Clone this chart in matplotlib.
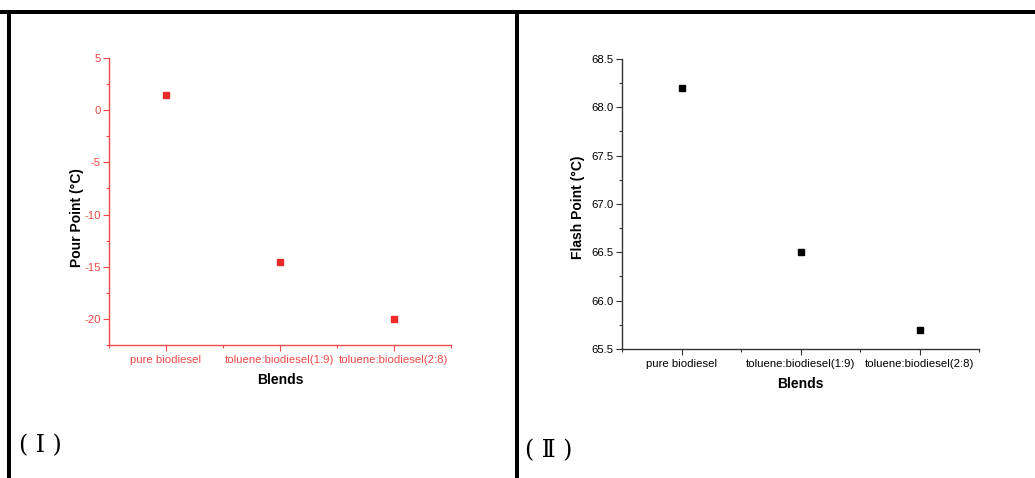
import matplotlib
matplotlib.use('Agg')
import matplotlib.pyplot as plt
from matplotlib.ticker import MultipleLocator, FixedLocator, FormatStrFormatter

blends = ['pure biodiesel', 'toluene:biodiesel(1:9)', 'toluene:biodiesel(2:8)']
pour_point = [1.5, -14.5, -20.0]
flash_point = [68.2, 66.5, 65.7]

plt.rcParams['font.family'] = ['Liberation Sans', 'DejaVu Sans']
plt.rcParams['axes.unicode_minus'] = False

fig = plt.figure(figsize=(10.35, 4.78), dpi=100)

red = '#f04848'
mark_red = '#ee2a2a'


def setup(ax, color, ylim, ymajor, yminor):
    x = range(len(blends))
    ax.set_xlim(-0.5, len(blends) - 0.5)
    ax.set_ylim(*ylim)
    for s in ['top', 'right']:
        ax.spines[s].set_visible(False)
    for s in ['left', 'bottom']:
        ax.spines[s].set_color(color)
        ax.spines[s].set_linewidth(1.0)
    ax.set_xticks(list(x))
    ax.set_xticklabels(blends)
    ax.xaxis.set_minor_locator(FixedLocator([-0.5, 0.5, 1.5, 2.5]))
    ax.yaxis.set_major_locator(MultipleLocator(ymajor))
    ax.yaxis.set_minor_locator(MultipleLocator(yminor))
    ax.tick_params(axis='both', which='major', direction='out', length=4,
                   width=0.8, color=color, labelcolor=color, labelsize=8.2)
    ax.tick_params(axis='x', which='major', pad=3.5)
    ax.tick_params(axis='y', which='major', pad=2)
    ax.tick_params(axis='both', which='minor', direction='out', length=2.5,
                   width=0.8, color=color)
    ax.set_xlabel('Blends', fontsize=10, fontweight='bold', labelpad=5.5)


# panel I
ax1 = fig.add_axes([0.1053, 0.2782, 0.3304, 0.6004])
ax1.plot(range(len(blends)), pour_point, 's', color=mark_red, markersize=5, linestyle='none')
setup(ax1, red, (-22.5, 5), 5, 2.5)
ax1.set_ylabel('Pour Point (°C)', fontsize=10, fontweight='bold')
ax1.yaxis.set_label_coords(-0.073, 0.445)

# panel II
ax2 = fig.add_axes([0.601, 0.2699, 0.3449, 0.6067])
ax2.plot(range(len(blends)), flash_point, 's', color='black', markersize=5, linestyle='none')
setup(ax2, '#333333', (65.5, 68.5), 0.5, 0.25)
ax2.tick_params(labelcolor='black')
ax2.set_ylabel('Flash Point (°C)', fontsize=10, fontweight='bold')
ax2.yaxis.set_label_coords(-0.104, 0.49)
ax2.yaxis.set_major_formatter(FormatStrFormatter('%.1f'))

# frame lines
lw = 4 * 72 / 100
fig.add_artist(plt.Line2D([0, 1], [1 - 11.5 / 478] * 2, color='black', lw=lw, transform=fig.transFigure))
fig.add_artist(plt.Line2D([9 / 1035] * 2, [0, 1 - 11.5 / 478], color='black', lw=lw, transform=fig.transFigure))
fig.add_artist(plt.Line2D([517 / 1035] * 2, [0, 1 - 11.5 / 478], color='black', lw=lw, transform=fig.transFigure))

panel_font = ['DejaVu Serif', 'Noto Sans CJK JP']
fig.text(19 / 1035, 1 - 446 / 478, '( Ⅰ )', fontsize=17, va='center', ha='left', family=panel_font)
fig.text(525 / 1035, 1 - 451 / 478, '( Ⅱ )', fontsize=17, va='center', ha='left', family=panel_font)

fig.savefig('out.png', dpi=100)
